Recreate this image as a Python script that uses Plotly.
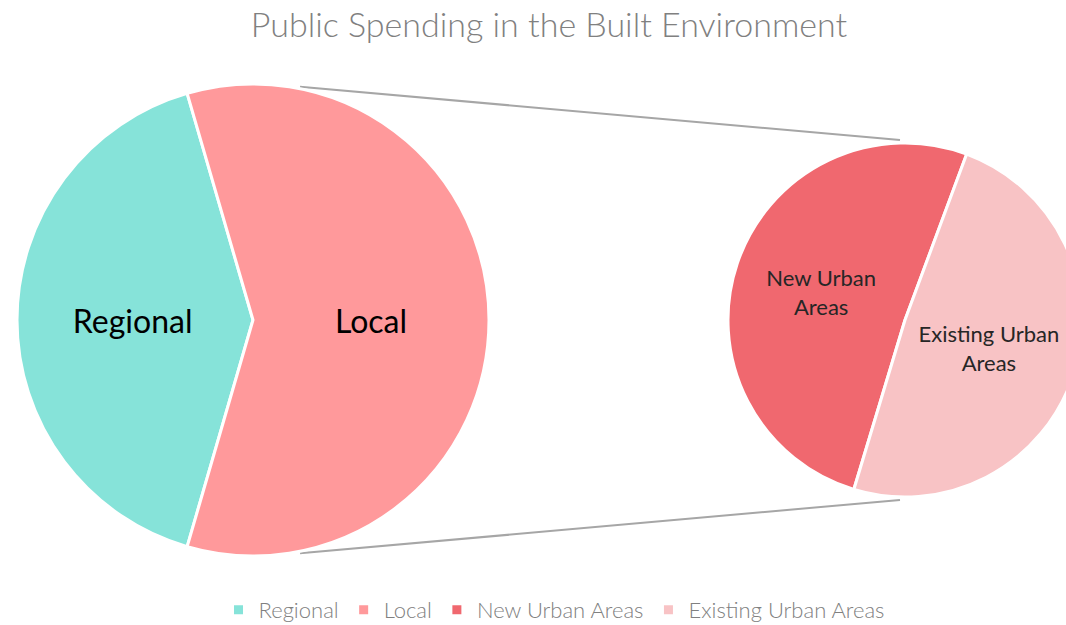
import math
import plotly.graph_objects as go

W, H = 1100, 660

# data
main_labels = ["Regional", "Local"]
main_values = [41, 59]
main_text = ["Regional", "Local"]
sub_labels = ["New Urban Areas", "Existing Urban Areas"]
sub_values = [51, 49]
sub_text = ["New Urban<br>Areas", "Existing Urban<br>Areas"]
colors_main = ["#86E3D9", "#FF999B"]
colors_sub = ["#F0686F", "#F8C3C5"]

# geometry (pixels)
L_cx, L_cy, L_r = 253, 320, 236
R_cx, R_cy, R_r = 905, 320, 177

def dom(cx, cy, r):
    return dict(x=[(cx - r) / W, (cx + r) / W],
                y=[(H - cy - r) / H, (H - cy + r) / H])

span_main = 360 * main_values[0] / sum(main_values)
rot_main = -(180 - span_main) / 2 - span_main
span_sub = 360 * sub_values[0] / sum(sub_values)
rot_sub = 20.4 - span_sub

fig = go.Figure()
fig.add_trace(go.Pie(
    labels=main_labels, values=main_values, text=main_text,
    textinfo="text", textposition="inside", insidetextorientation="horizontal",
    sort=False, direction="clockwise", rotation=rot_main,
    marker=dict(colors=colors_main, line=dict(color="white", width=3)),
    textfont=dict(family="Lato", size=32, color="#000000"),
    domain=dom(L_cx, L_cy, L_r), hoverinfo="label+value",
))
fig.add_trace(go.Pie(
    labels=sub_labels, values=sub_values, text=sub_text,
    textinfo="text", textposition="inside", insidetextorientation="horizontal",
    sort=False, direction="clockwise", rotation=rot_sub,
    marker=dict(colors=colors_sub, line=dict(color="white", width=3)),
    textfont=dict(family="Lato", size=22, color="#262626"),
    domain=dom(R_cx, R_cy, R_r), hoverinfo="label+value",
))

def pt(cx, cy, r, ang):
    a = math.radians(ang)
    x = cx + r * math.sin(a)
    y = cy - r * math.cos(a)
    return x / W, 1 - y / H

for a1, a2 in ((11.4, -1.6), (168.6, 181.6)):
    x0, y0 = pt(L_cx, L_cy, L_r + 2, a1)
    x1, y1 = pt(R_cx, R_cy, R_r + 3, a2)
    fig.add_shape(type="line", xref="paper", yref="paper", x0=x0, y0=y0, x1=x1, y1=y1,
                  line=dict(color="#A6A6A6", width=2), layer="below")

fig.update_layout(
    width=W, height=H,
    margin=dict(l=0, r=0, t=0, b=0),
    paper_bgcolor="white", plot_bgcolor="white",
    title=dict(text="Public Spending in the Built Environment",
               x=549 / W, xanchor="center",
               y=1 - 25 / H, yanchor="middle",
               font=dict(family="Lato", size=34, color="#808080", weight=300)),
    legend=dict(orientation="h", x=554 / W, xanchor="center",
                y=1 - 610 / H, yanchor="middle",
                font=dict(family="Lato", size=22, color="#808080", weight=300),
                itemwidth=30, traceorder="normal"),
    showlegend=True,
)

fig.write_html(
    "out.html",
    config={"displayModeBar": False},
    post_script="document.body.style.margin='0px';"
                "document.documentElement.style.overflow='hidden';"
                "document.body.style.overflow='hidden';",
)
